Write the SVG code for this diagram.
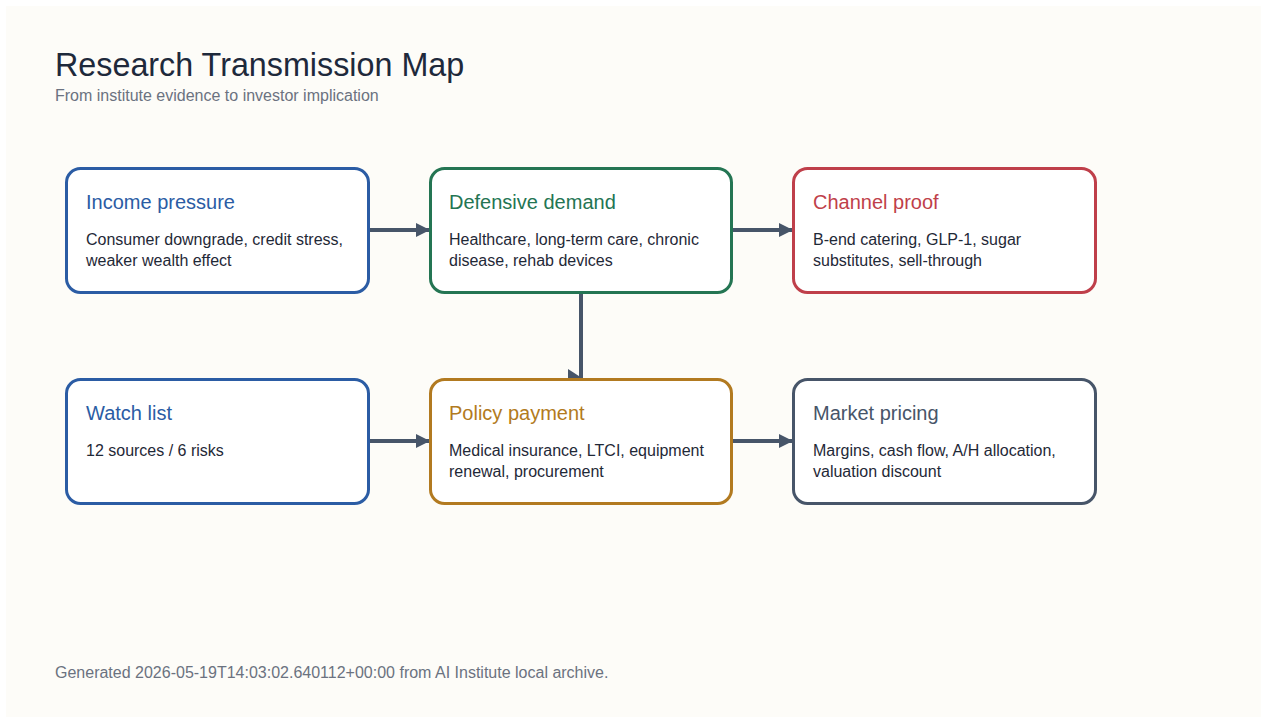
<svg xmlns="http://www.w3.org/2000/svg" width="1267" height="723" viewBox="0 0 1267 723">
<style>
.bg{fill:#fdfcf8}
.title{font-family:"Liberation Sans",Arial,sans-serif;font-size:32.3px;fill:#1e293b}
.sub{font-family:"Liberation Sans",Arial,sans-serif;font-size:16px;fill:#6b7280}
.foot{font-family:"Liberation Sans",Arial,sans-serif;font-size:16px;fill:#6b7280}
.box{fill:#ffffff;stroke-width:3}
.nt{font-family:"Liberation Sans",Arial,sans-serif;font-size:20px}
.nb{font-family:"Liberation Sans",Arial,sans-serif;font-size:16px;fill:#1f2937}
.edge{stroke:#475569;stroke-width:4;fill:none}
.head{fill:#475569}
</style>
<defs>
<marker id="arr" viewBox="0 0 10 10" refX="10" refY="5" markerWidth="3.5" markerHeight="3.5" orient="auto" markerUnits="strokeWidth">
<path d="M0,0 L10,5 L0,10 Z" class="head"/>
</marker>
</defs>
<rect width="1267" height="723" fill="#ffffff"/>
<rect x="6" y="6" width="1255" height="711" class="bg"/>
<text x="55" y="76" class="title">Research Transmission Map</text>
<text x="55" y="101" class="sub">From institute evidence to investor implication</text>

<g id="connectors">
<path d="M369,230 L430,230" class="edge" marker-end="url(#arr)"/>
<path d="M732,230 L793,230" class="edge" marker-end="url(#arr)"/>
<path d="M369,441 L430,441" class="edge" marker-end="url(#arr)"/>
<path d="M732,441 L793,441" class="edge" marker-end="url(#arr)"/>
<path d="M581,293 L581,379" class="edge"/>
<path d="M568,369 L582,378 L568,387 Z" class="head"/>
</g>

<g id="income">
<rect x="66.5" y="168.5" width="302" height="124" rx="14" class="box" stroke="#2b5ca4"/>
<text x="86" y="209" class="nt" fill="#2b5ca4">Income pressure</text>
<text x="86" y="245" class="nb">Consumer downgrade, credit stress,</text>
<text x="86" y="266" class="nb">weaker wealth effect</text>
</g>
<g id="defensive">
<rect x="430.5" y="168.5" width="301" height="124" rx="14" class="box" stroke="#247553"/>
<text x="449" y="209" class="nt" fill="#247553">Defensive demand</text>
<text x="449" y="245" class="nb">Healthcare, long-term care, chronic</text>
<text x="449" y="266" class="nb">disease, rehab devices</text>
</g>
<g id="channel">
<rect x="793.5" y="168.5" width="302" height="124" rx="14" class="box" stroke="#bf3f4a"/>
<text x="813" y="209" class="nt" fill="#bf3f4a">Channel proof</text>
<text x="813" y="245" class="nb">B-end catering, GLP-1, sugar</text>
<text x="813" y="266" class="nb">substitutes, sell-through</text>
</g>
<g id="watch">
<rect x="66.5" y="379.5" width="302" height="124" rx="14" class="box" stroke="#2b5ca4"/>
<text x="86" y="420" class="nt" fill="#2b5ca4">Watch list</text>
<text x="86" y="456" class="nb">12 sources / 6 risks</text>
</g>
<g id="policy">
<rect x="430.5" y="379.5" width="301" height="124" rx="14" class="box" stroke="#b27a20"/>
<text x="449" y="420" class="nt" fill="#b27a20">Policy payment</text>
<text x="449" y="456" class="nb">Medical insurance, LTCI, equipment</text>
<text x="449" y="477" class="nb">renewal, procurement</text>
</g>
<g id="market">
<rect x="793.5" y="379.5" width="302" height="124" rx="14" class="box" stroke="#475569"/>
<text x="813" y="420" class="nt" fill="#475569">Market pricing</text>
<text x="813" y="456" class="nb">Margins, cash flow, A/H allocation,</text>
<text x="813" y="477" class="nb">valuation discount</text>
</g>

<text x="55" y="678" class="foot">Generated 2026-05-19T14:03:02.640112+00:00 from AI Institute local archive.</text>
</svg>
